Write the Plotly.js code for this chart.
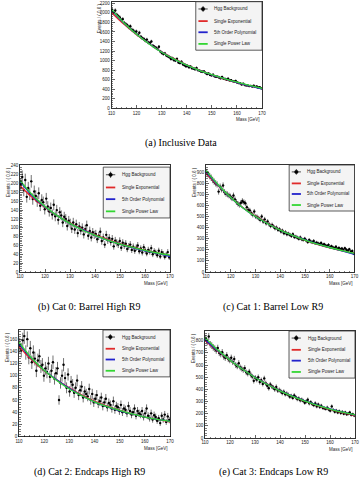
<!DOCTYPE html>
<html>
<head>
<meta charset="utf-8">
<script src="https://cdn.plot.ly/plotly-3.0.1.min.js"></script>
<style>
  html, body { margin: 0; padding: 0; background: #fff; }
  #chart { width: 362px; height: 480px; }
</style>
</head>
<body>
<div id="chart"></div>
<script>
// Diphoton mass spectrum: 100 bins of 0.6 GeV from 110 to 170 GeV
const binLow = 110;
const binWidth = 0.6;

// Event counts per bin
const countsInclusive = [
  2060, 1995, 2050, 1960, 1930, 1905, 1850, 1870, 1790, 1765,
  1740, 1700, 1720, 1650, 1630, 1595, 1610, 1540, 1585, 1500,
  1470, 1455, 1420, 1440, 1380, 1370, 1400, 1310, 1290, 1270,
  1245, 1290, 1190, 1160, 1140, 1150, 1105, 1090, 1070, 1035,
  1050, 1010, 1000, 1035, 960, 950, 975, 920, 905, 880,
  890, 860, 875, 840, 835, 820, 845, 800, 790, 770,
  765, 775, 740, 720, 730, 700, 690, 705, 670, 660,
  660, 645, 630, 655, 620, 615, 600, 620, 585, 590,
  570, 560, 575, 540, 530, 525, 500, 515, 490, 480,
  480, 465, 470, 455, 475, 450, 460, 435, 440, 420
];
const countsCat0 = [
  198, 215, 185, 208, 170, 190, 176, 205, 165, 182,
  172, 160, 178, 150, 163, 158, 142, 166, 148, 137,
  145, 130, 152, 126, 140, 118, 135, 128, 112, 125,
  120, 104, 116, 110, 98, 112, 96, 108, 88, 103,
  94, 100, 85, 97, 106, 82, 93, 78, 90, 84,
  86, 74, 82, 91, 70, 78, 62, 84, 72, 77,
  68, 75, 58, 71, 66, 62, 70, 55, 66, 60,
  64, 52, 58, 62, 50, 57, 48, 55, 60, 47,
  53, 44, 56, 49, 42, 50, 46, 54, 40, 47,
  44, 38, 48, 35, 45, 41, 34, 39, 45, 33
];
const countsCat1 = [
  900, 880, 865, 850, 830, 815, 800, 790, 725, 770,
  745, 780, 720, 705, 700, 690, 680, 665, 690, 655,
  630, 615, 605, 625, 640, 630, 620, 585, 560, 555,
  530, 515, 545, 500, 495, 485, 470, 500, 455, 475,
  440, 455, 430, 415, 425, 410, 395, 400, 380, 385,
  365, 372, 350, 360, 340, 345, 335, 325, 340, 315,
  318, 310, 300, 312, 295, 290, 300, 285, 270, 288,
  275, 268, 280, 260, 265, 258, 250, 262, 245, 250,
  240, 235, 245, 225, 232, 222, 215, 228, 210, 218,
  205, 212, 198, 215, 200, 192, 205, 185, 190, 165
];
const countsCat2 = [
  150, 142, 158, 165, 138, 160, 130, 145, 122, 138,
  128, 108, 125, 132, 115, 118, 100, 112, 106, 120,
  98, 108, 122, 95, 104, 112, 60, 88, 100, 118,
  96, 80, 102, 74, 90, 85, 72, 80, 92, 68,
  76, 82, 64, 74, 70, 66, 78, 60, 70, 56,
  62, 68, 54, 58, 64, 50, 56, 62, 48, 55,
  52, 46, 58, 44, 50, 48, 42, 52, 40, 46,
  44, 38, 50, 42, 36, 40, 46, 34, 42, 38,
  36, 42, 32, 38, 46, 34, 30, 38, 28, 35,
  32, 26, 30, 22, 34, 28, 36, 24, 33, 27
];
const countsCat3 = [
  820, 790, 835, 770, 760, 745, 735, 720, 740, 700,
  690, 705, 670, 660, 680, 650, 640, 660, 625, 650,
  600, 590, 615, 580, 570, 560, 575, 540, 530, 545,
  520, 505, 470, 495, 480, 500, 460, 475, 445, 490,
  450, 430, 410, 440, 425, 415, 400, 420, 390, 395,
  385, 370, 380, 360, 365, 355, 340, 345, 330, 350,
  335, 320, 325, 310, 315, 305, 290, 300, 315, 285,
  295, 280, 270, 285, 260, 275, 255, 265, 248, 245,
  240, 250, 235, 225, 260, 230, 215, 225, 210, 220,
  205, 215, 200, 210, 195, 200, 210, 190, 195, 185
];

// Background fit curves sampled every 5 GeV
const fitMass = [110, 115, 120, 125, 130, 135, 140, 145, 150, 155, 160, 165, 170];
const expInclusive  = [2010, 1760, 1545, 1355, 1185, 1040, 910, 800, 700, 612, 537, 470, 412];
const polyInclusive = [2060, 1785, 1555, 1355, 1180, 1030, 905, 795, 700, 618, 540, 470, 405];
const powInclusive  = [2075, 1790, 1550, 1350, 1175, 1030, 905, 797, 705, 622, 548, 480, 420];
const expCat0  = [195, 168, 146, 127, 111, 97, 84, 74, 64, 56, 49, 43, 37];
const polyCat0 = [205, 172, 147, 127, 110, 96, 83, 72, 63, 55, 48, 42, 35];
const powCat0  = [207, 174, 148, 127, 110, 95, 83, 72, 63, 56, 49, 43, 38];
const expCat1  = [890, 775, 670, 580, 505, 440, 380, 330, 287, 250, 217, 190, 165];
const polyCat1 = [905, 780, 670, 578, 500, 437, 378, 330, 290, 252, 220, 190, 160];
const powCat1  = [915, 785, 672, 578, 500, 435, 378, 330, 288, 252, 221, 193, 168];
const expCat2  = [148, 126, 108, 93, 80, 68, 58, 50, 43, 37, 32, 28, 24];
const polyCat2 = [152, 128, 109, 93, 79, 67, 57, 49, 42, 37, 32, 28, 25];
const powCat2  = [155, 129, 109, 92, 78, 67, 57, 49, 43, 37, 32, 28, 25];
const expCat3  = [800, 715, 637, 565, 500, 443, 390, 343, 303, 267, 235, 208, 183];
const polyCat3 = [810, 720, 640, 566, 500, 442, 390, 345, 305, 270, 240, 213, 188];
const powCat3  = [825, 725, 640, 565, 498, 440, 388, 343, 303, 268, 238, 212, 190];

const legendLabels = ['Hgg Background', 'Single Exponential', '5th Order Polynomial', 'Single Power Law'];
const captions = [
  '(a) Inclusive Data',
  '(b) Cat 0: Barrel High R9',
  '(c) Cat 1: Barrel Low R9',
  '(d) Cat 2: Endcaps High R9',
  '(e) Cat 3: Endcaps Low R9'
];
const yTitle = 'Events / ( 0.6 )';
const xTitle = 'Mass [GeV]';

// Page layout (pixels in a 362x480 page)
const W = 362, H = 480;
const panels = [
  { counts: countsInclusive, exp: expInclusive, poly: polyInclusive, pow: powInclusive,
    box: [111.5, 262, 1.7, 108.3], ymax: 2235, ydt: 200, cap: [181, 143],
    leg: [0.56, 1.0, 0.545, 1.0] },
  { counts: countsCat0, exp: expCat0, poly: polyCat0, pow: powCat0,
    box: [20, 170, 165, 272], ymax: 242, ydt: 20, cap: [89, 307],
    leg: [0.555, 1.0, 0.505, 0.98] },
  { counts: countsCat1, exp: expCat1, poly: polyCat1, pow: powCat1,
    box: [206, 354.5, 165, 272], ymax: 965, ydt: 100, cap: [273, 307],
    leg: [0.56, 1.0, 0.57, 1.0] },
  { counts: countsCat2, exp: expCat2, poly: polyCat2, pow: powCat2,
    box: [19, 170, 330, 436.5], ymax: 175, ydt: 20, cap: [89, 472],
    leg: [0.556, 1.0, 0.56, 1.0] },
  { counts: countsCat3, exp: expCat3, poly: polyCat3, pow: powCat3,
    box: [205, 355, 331, 438], ymax: 880, ydt: 100, cap: [273, 472],
    leg: [0.56, 1.0, 0.56, 1.0] }
];

const RED = '#e02a2a', BLUE = '#2222cc', GREEN = '#33d633';
const tickFont = { family: 'Liberation Sans, Arial, sans-serif', size: 4.5, color: '#222' };

const traces = [];
const layout = {
  width: W, height: H,
  margin: { l: 0, r: 0, t: 0, b: 0 },
  paper_bgcolor: '#fff', plot_bgcolor: '#fff',
  showlegend: false,
  shapes: [], annotations: []
};

panels.forEach((p, k) => {
  const n = k === 0 ? '' : String(k + 1);
  const xa = 'x' + n, ya = 'y' + n;
  const centers = p.counts.map((_, i) => binLow + binWidth * (i + 0.5));

  traces.push({
    type: 'scatter', mode: 'markers', xaxis: xa, yaxis: ya,
    x: centers, y: p.counts,
    marker: { color: '#000', size: 2.4 },
    error_y: { type: 'data', array: p.counts.map(Math.sqrt), color: '#111', thickness: 0.6, width: 0 },
    error_x: { type: 'constant', value: binWidth / 2, color: '#111', thickness: 0.6, width: 0 },
    hoverinfo: 'skip'
  });
  [[p.exp, RED], [p.poly, BLUE], [p.pow, GREEN]].forEach(([ys, c]) => {
    traces.push({
      type: 'scatter', mode: 'lines', xaxis: xa, yaxis: ya,
      x: fitMass, y: ys, line: { color: c, width: 1.3, shape: 'spline' },
      hoverinfo: 'skip'
    });
  });

  const [l, r, t, b] = p.box;
  const common = {
    showgrid: false, zeroline: false, showline: true, linecolor: '#000', linewidth: 0.8,
    mirror: true, ticks: 'inside', ticklen: 3, tickwidth: 0.6, tickcolor: '#000',
    tickfont: tickFont
  };
  layout['xaxis' + n] = Object.assign({}, common, {
    domain: [l / W, r / W], anchor: ya, range: [110, 170],
    tick0: 110, dtick: 10,
    minor: { ticks: 'inside', ticklen: 1.5, tickwidth: 0.5, tickcolor: '#000', dtick: 2 }
  });
  layout['yaxis' + n] = Object.assign({}, common, {
    domain: [1 - b / H, 1 - t / H], anchor: xa, range: [0, p.ymax],
    tick0: 0, dtick: p.ydt,
    minor: { ticks: 'inside', ticklen: 1.5, tickwidth: 0.5, tickcolor: '#000', dtick: p.ydt / 5 }
  });

  // Axis titles, ROOT style: aligned to the far ends of the axes
  layout.annotations.push({
    xref: 'paper', yref: 'paper', x: (l - 12) / W, y: 1 - t / H,
    text: yTitle, textangle: -90, showarrow: false,
    xanchor: 'center', yanchor: 'top', font: tickFont
  });
  layout.annotations.push({
    xref: 'paper', yref: 'paper', x: r / W, y: 1 - (b + 7) / H,
    text: xTitle, showarrow: false, xanchor: 'right', yanchor: 'top', font: tickFont
  });
  // Caption below each panel
  layout.annotations.push({
    xref: 'paper', yref: 'paper', x: p.cap[0] / W, y: 1 - p.cap[1] / H,
    text: captions[k], showarrow: false, xanchor: 'center', yanchor: 'middle',
    font: { family: 'Liberation Serif, Times New Roman, serif', size: 10, color: '#000' }
  });

  // Legend box inside the frame
  const xr = xa + ' domain', yr = ya + ' domain';
  const [lx0, lx1, ly0, ly1] = p.leg;
  layout.shapes.push({
    type: 'rect', xref: xr, yref: yr, x0: lx0, x1: lx1, y0: ly0, y1: ly1,
    fillcolor: '#f4f4f4', line: { color: '#333', width: 0.8 }, layer: 'above'
  });
  const lw = lx1 - lx0, lh = ly1 - ly0;
  const rows = [0.15, 0.4, 0.63, 0.87];
  const keyColors = [null, RED, BLUE, GREEN];
  rows.forEach((fr, j) => {
    const yy = ly1 - fr * lh;
    const kx0 = lx0 + 0.04 * lw, kx1 = lx0 + 0.18 * lw;
    if (j === 0) {
      const kxm = (kx0 + kx1) / 2;
      layout.shapes.push({ type: 'line', xref: xr, yref: yr, x0: kx0, x1: kx1, y0: yy, y1: yy,
        line: { color: '#000', width: 0.7 }, layer: 'above' });
      layout.shapes.push({ type: 'line', xref: xr, yref: yr, x0: kxm, x1: kxm, y0: yy - 0.06 * lh, y1: yy + 0.06 * lh,
        line: { color: '#000', width: 0.7 }, layer: 'above' });
      layout.shapes.push({ type: 'circle', xref: xr, yref: yr, x0: kxm - 0.012, x1: kxm + 0.012,
        y0: yy - 0.016, y1: yy + 0.016, fillcolor: '#000', line: { color: '#000', width: 0.5 }, layer: 'above' });
    } else {
      layout.shapes.push({ type: 'line', xref: xr, yref: yr, x0: kx0, x1: kx1, y0: yy, y1: yy,
        line: { color: keyColors[j], width: 1.8 }, layer: 'above' });
    }
    layout.annotations.push({
      xref: xr, yref: yr, x: lx0 + 0.25 * lw, y: yy, text: legendLabels[j],
      showarrow: false, xanchor: 'left', yanchor: 'middle', font: tickFont
    });
  });
});

Plotly.newPlot('chart', traces, layout, { staticPlot: true, displayModeBar: false });
</script>
</body>
</html>
